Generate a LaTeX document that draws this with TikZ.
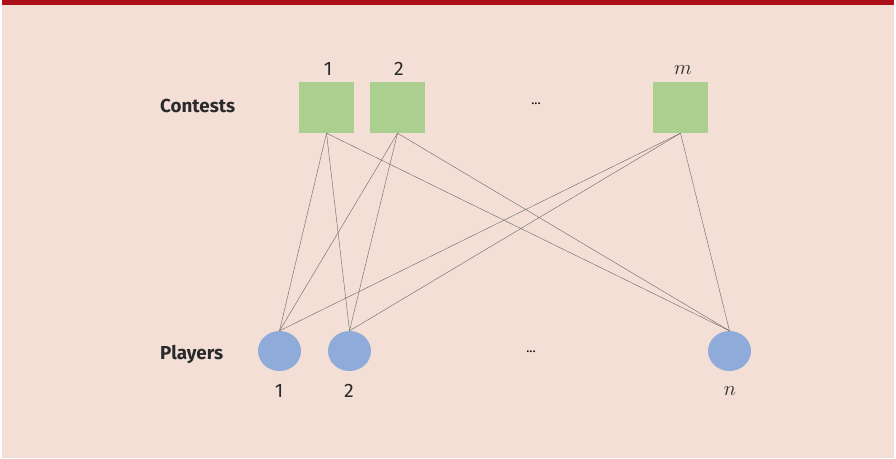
\documentclass[tikz,border=0pt]{standalone}
\usepackage{fontspec}
\setmainfont{Fira Sans}
\definecolor{bgpink}{HTML}{F3DFD6}
\definecolor{topred}{HTML}{AD1019}
\definecolor{boxgreen}{HTML}{AACF8F}
\definecolor{circblue}{HTML}{8FABD9}
\definecolor{txt}{HTML}{2A2A2A}
\tikzset{
  contest/.style={fill=boxgreen, draw=none, minimum width=55pt, minimum height=51pt, inner sep=0pt},
  player/.style={ellipse, fill=circblue, draw=none, minimum width=43pt, minimum height=40pt, inner sep=0pt},
  num/.style={text=txt, font=\fontsize{19.5}{22}\selectfont, inner sep=0pt},
  rowlabel/.style={text=txt, font=\fontsize{18.8}{22}\selectfont\bfseries, anchor=west, inner sep=0pt},
  edge/.style={draw=black!60, line width=0.4pt},
  dotslabel/.style={text=black, font=\fontsize{13}{15}\selectfont, inner sep=0pt}
}
\usetikzlibrary{shapes.geometric}
\begin{document}
\begin{tikzpicture}[x=1pt,y=-1pt]
\useasboundingbox (0,0) rectangle (896,458);
\fill[bgpink] (2,0) rectangle (894,458);
\fill[topred] (2,0) rectangle (894,5);
% contests
\node[contest] (c1) at (326.5,107.5) {};
\node[contest] (c2) at (397.5,107.5) {};
\node[contest] (cm) at (680.5,107.5) {};
\node[num] (l1) at (328,69) {1};
\node[num] (l2) at (399,69) {2};
\node[num] (lm) at (683,70) {$m$};
\node[dotslabel] (cdots) at (536,104) {...};
\node[rowlabel] (contests) at (160,106) {Contests};
% players
\node[player] (p1) at (279.5,351) {};
\node[player] (p2) at (349.5,351) {};
\node[player] (pn) at (729.5,351) {};
\node[num] (k1) at (279,391) {1};
\node[num] (k2) at (349,391) {2};
\node[num] (kn) at (730,391) {$n$};
\node[dotslabel] (pdots) at (531,352) {...};
\node[rowlabel] (players) at (160,354) {Players};
% edges
\foreach \c in {c1,c2,cm}{
  \foreach \p in {p1,p2,pn}{
    \draw[edge] (\c.south) -- (\p.north);
  }
}
\end{tikzpicture}
\end{document}
